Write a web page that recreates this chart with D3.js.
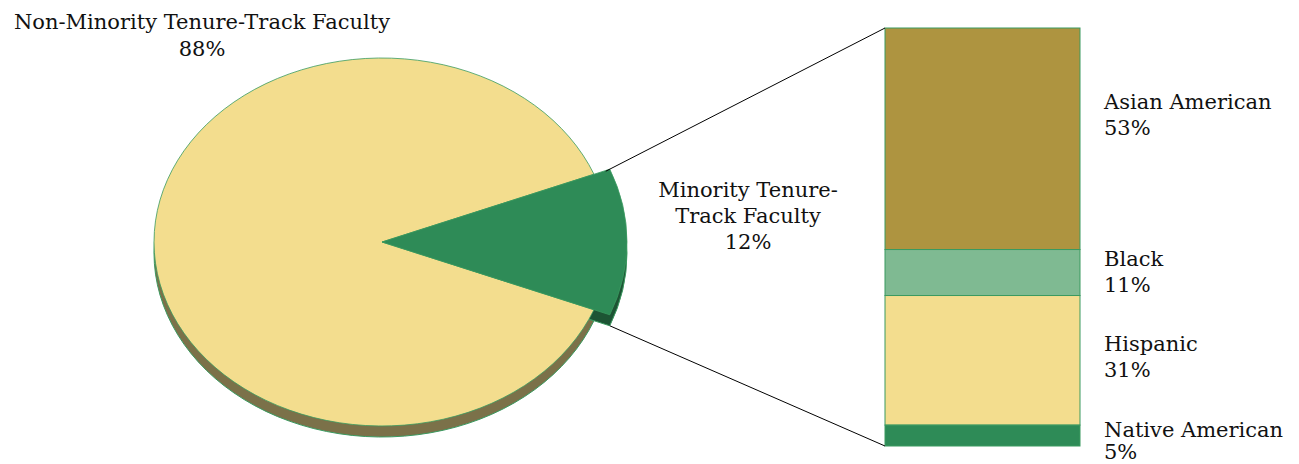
<!DOCTYPE html>
<html>
<head>
<meta charset="utf-8">
<script src="https://cdn.jsdelivr.net/npm/d3@7"></script>
<style>
  body { margin: 0; background: #fff; }
  text { font-family: "DejaVu Serif", serif; font-size: 21px; fill: #111; }
</style>
</head>
<body>
<div id="chart"></div>
<script>
// pie data
var pieNames = ["Non-Minority Tenure-Track Faculty", "Minority Tenure-Track Faculty"];
var pieValues = [88, 12];
var pieColors = ["#f3dd8e", "#2e8b57"];
var pieSides = ["#7b7149", "#1d5434"];

// breakdown of the minority slice
var barNames = ["Asian American", "Black", "Hispanic", "Native American"];
var barValues = [53, 11, 31, 5];
var barColors = ["#ae9440", "#7fba92", "#f3dd8e", "#2e8b57"];

var width = 1299, height = 464;

var svg = d3.select("#chart").append("svg")
    .attr("width", width)
    .attr("height", height);

var cx = 382, cy = 242, rx = 228, ry = 184, depth = 11;
var ratio = ry / rx;

// green slice centred on 3 o'clock
var half = Math.PI * pieValues[1] / 100;
var pie = d3.pie().sort(null)
    .startAngle(Math.PI / 2 + half)
    .endAngle(Math.PI / 2 + half + 2 * Math.PI);
var slices = pie(pieValues);

var arcs = [
  d3.arc().innerRadius(0).outerRadius(rx),
  d3.arc().innerRadius(0).outerRadius(rx + 17)
];

// side (depth) first, then top
[depth, 0].forEach(function(off) {
  svg.append("g")
      .attr("transform", "translate(" + cx + "," + (cy + off) + ") scale(1," + ratio + ")")
    .selectAll("path")
    .data(slices)
    .enter().append("path")
      .attr("d", function(d, i) { return arcs[i](d); })
      .attr("fill", function(d, i) { return off ? pieSides[i] : pieColors[i]; })
      .attr("stroke", "#3a9a60")
      .attr("stroke-width", off ? 1 : 0.8)
      .attr("vector-effect", "non-scaling-stroke");
});

// bar
var barX = 885, barW = 195;
var y = d3.scaleLinear().domain([0, 100]).range([28, 446]);
var cum = 0;
var segs = barValues.map(function(v, i) {
  var s = {name: barNames[i], value: v, y0: cum, y1: cum + v, color: barColors[i]};
  cum += v;
  return s;
});

svg.selectAll(".seg")
  .data(segs)
  .enter().append("rect")
    .attr("class", "seg")
    .attr("x", barX)
    .attr("y", function(d) { return y(d.y0); })
    .attr("width", barW)
    .attr("height", function(d) { return y(d.y1) - y(d.y0); })
    .attr("fill", function(d) { return d.color; })
    .attr("stroke", "#3a9a60")
    .attr("stroke-width", 1);

// connectors from slice edge to bar corners
function edgePoint(angle) {
  var r = rx + 17;
  return [cx + r * Math.sin(angle), cy - r * Math.cos(angle) * ratio];
}
var g = slices[1];
var pTop = edgePoint(g.startAngle), pBot = edgePoint(g.endAngle);
svg.append("line")
    .attr("x1", pTop[0] - 4).attr("y1", pTop[1] + 2)
    .attr("x2", barX).attr("y2", y(0))
    .attr("stroke", "#000").attr("stroke-width", 1);
svg.append("line")
    .attr("x1", pBot[0]).attr("y1", pBot[1] + depth)
    .attr("x2", barX).attr("y2", y(100))
    .attr("stroke", "#000").attr("stroke-width", 1);

// labels
function label(x, ys, lines, anchor, step) {
  var t = svg.append("text").attr("text-anchor", anchor);
  lines.forEach(function(l, i) {
    t.append("tspan").attr("x", x).attr("y", ys + i * step).text(l);
  });
}
label(202, 29, [pieNames[0], pieValues[0] + "%"], "middle", 27);
label(748, 197, ["Minority Tenure-", "Track Faculty", pieValues[1] + "%"], "middle", 26);

var labelY = [109, 266, 351, 437];
segs.forEach(function(d, i) {
  label(1104, labelY[i], [d.name, d.value + "%"], "start", i === 3 ? 22 : 26);
});
</script>
</body>
</html>
